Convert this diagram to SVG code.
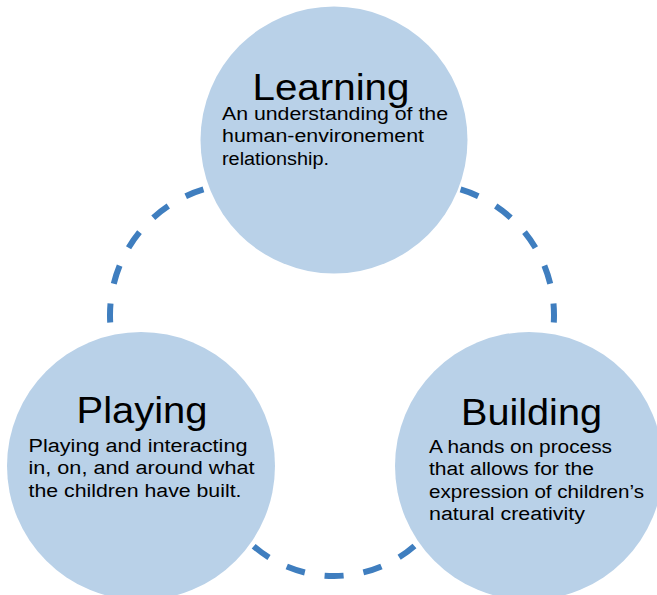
<svg xmlns="http://www.w3.org/2000/svg" width="657" height="595" viewBox="0 0 657 595">
  <style>
    .arc { fill: none; stroke: #3F7EBF; stroke-width: 6; stroke-dasharray: 19 20; stroke-linecap: butt; }
    .node { fill: #B9D1E8; stroke: none; }
    .title { font-family: "Liberation Sans", Arial, sans-serif; font-size: 37.5px; fill: #000; }
    .body { font-family: "Liberation Sans", Arial, sans-serif; font-size: 19.2px; fill: #000; }
  </style>
  <rect width="657" height="595" fill="#FFFFFF"/>
  <g id="connectors">
    <path class="arc" d="M114.46,348.9 A131,131 0 0 1 263.75,185.99" stroke-dashoffset="12.15"/>
    <path class="arc" d="M549.54,348.9 A131,131 0 0 0 400.25,185.99" stroke-dashoffset="12.15"/>
    <path class="arc" d="M227.48,514.5 A123,123 0 0 0 440.52,514.5" stroke-dashoffset="36.7"/>
  </g>
  <g id="learning">
    <circle class="node" cx="334" cy="140" r="133.5"/>
    <text class="title" x="252.5" y="99.5" textLength="157" lengthAdjust="spacingAndGlyphs">Learning</text>
    <text class="body" x="222" y="119.5" textLength="226" lengthAdjust="spacingAndGlyphs">An understanding of the</text>
    <text class="body" x="222" y="142" textLength="202" lengthAdjust="spacingAndGlyphs">human-environement</text>
    <text class="body" x="222" y="164.5" textLength="107" lengthAdjust="spacingAndGlyphs">relationship.</text>
  </g>
  <g id="playing">
    <circle class="node" cx="141" cy="466" r="134"/>
    <text class="title" x="76.5" y="423" textLength="131" lengthAdjust="spacingAndGlyphs">Playing</text>
    <text class="body" x="28.5" y="451.5" textLength="219" lengthAdjust="spacingAndGlyphs">Playing and interacting</text>
    <text class="body" x="28.5" y="474" textLength="226" lengthAdjust="spacingAndGlyphs">in, on, and around what</text>
    <text class="body" x="28.5" y="496.5" textLength="213" lengthAdjust="spacingAndGlyphs">the children have built.</text>
  </g>
  <g id="building">
    <circle class="node" cx="529" cy="466" r="134"/>
    <text class="title" x="461" y="425" textLength="141" lengthAdjust="spacingAndGlyphs">Building</text>
    <text class="body" x="429" y="452.5" textLength="183" lengthAdjust="spacingAndGlyphs">A hands on process</text>
    <text class="body" x="429" y="475" textLength="165" lengthAdjust="spacingAndGlyphs">that allows for the</text>
    <text class="body" x="429" y="497.5" textLength="215" lengthAdjust="spacingAndGlyphs">expression of children’s</text>
    <text class="body" x="429" y="520" textLength="156" lengthAdjust="spacingAndGlyphs">natural creativity</text>
  </g>
</svg>
